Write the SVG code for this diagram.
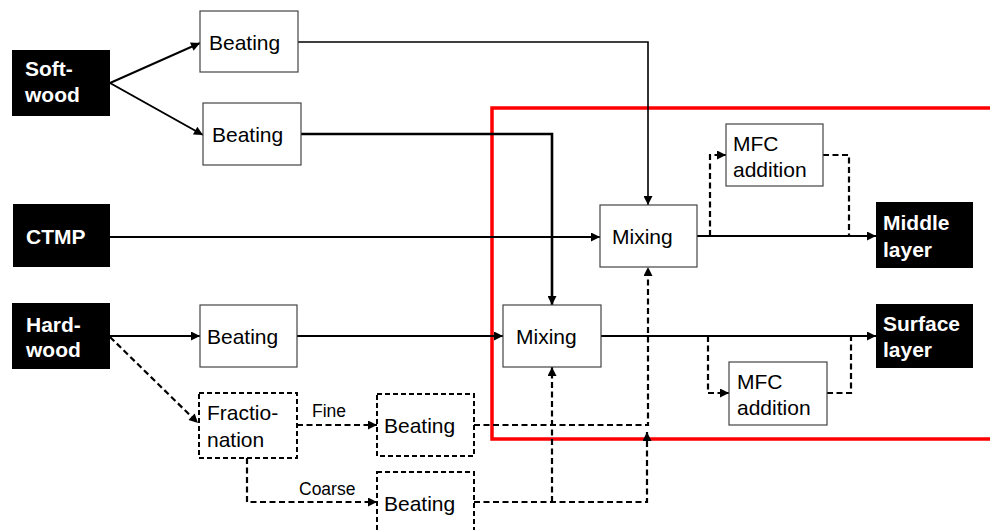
<svg xmlns="http://www.w3.org/2000/svg" width="990" height="530" viewBox="0 0 990 530">
<style>
.box{fill:#fff;stroke:#444;stroke-width:1.2}
.dbox{fill:#fff;stroke:#000;stroke-width:2;stroke-dasharray:5,3}
.blk{fill:#000}
.t{font-family:"Liberation Sans",Arial,sans-serif;font-size:21px;fill:#000}
.w{font-family:"Liberation Sans",Arial,sans-serif;font-size:21px;font-weight:bold;fill:#fff}
.s{font-family:"Liberation Sans",Arial,sans-serif;font-size:17.5px;fill:#000}
.ln{fill:none;stroke:#000;stroke-width:2}
.dl{fill:none;stroke:#000;stroke-width:2.2;stroke-dasharray:6,3.5}
</style>
<defs>
<marker id="ah" viewBox="0 0 10 10" refX="10" refY="5" markerWidth="11" markerHeight="9" orient="auto" markerUnits="userSpaceOnUse">
<path d="M0,0 L10,5 L0,10 z" fill="#000"/>
</marker>
</defs>
<rect x="492" y="108" width="510" height="331" fill="none" stroke="#f00" stroke-width="3.5"/>
<g id="connectors">
<line class="ln" x1="110" y1="83" x2="200" y2="43" marker-end="url(#ah)"/>
<line class="ln" x1="110" y1="83" x2="203" y2="135" marker-end="url(#ah)"/>
<polyline class="ln" style="stroke-width:1.6" points="298,42 648,42 648,205" marker-end="url(#ah)"/>
<polyline class="ln" style="stroke-width:2.6" points="301,134 552,134 552,305" marker-end="url(#ah)"/>
<line class="ln" x1="110" y1="237" x2="600" y2="237" marker-end="url(#ah)"/>
<line class="ln" x1="697" y1="236" x2="876" y2="236" marker-end="url(#ah)"/>
<polyline class="dl" points="710,236 710,155 726,155" marker-end="url(#ah)"/>
<polyline class="dl" points="823,155 849,155 849,236"/>
<line class="ln" x1="110" y1="336" x2="200" y2="336" marker-end="url(#ah)"/>
<line class="ln" x1="297" y1="336" x2="503" y2="336" marker-end="url(#ah)"/>
<line class="ln" x1="601" y1="336" x2="876" y2="336" marker-end="url(#ah)"/>
<polyline class="dl" points="708,336 708,393 729,393" marker-end="url(#ah)"/>
<polyline class="dl" points="827,393 851,393 851,336"/>
<line class="dl" x1="110" y1="337" x2="198" y2="423" marker-end="url(#ah)"/>
<line class="dl" x1="297" y1="425" x2="377" y2="425" marker-end="url(#ah)"/>
<polyline class="dl" points="247,458 247,502 377,502" marker-end="url(#ah)"/>
<polyline class="dl" points="474,425 648,425 648,267" marker-end="url(#ah)"/>
<polyline class="dl" points="474,502 647,502 647,432" marker-end="url(#ah)"/>
<line class="dl" x1="552" y1="502" x2="552" y2="367" marker-end="url(#ah)"/>
</g>
<g id="softwood"><rect class="blk" x="12" y="50" width="98" height="66"/><text class="w" x="25" y="76">Soft-</text><text class="w" x="25" y="102">wood</text></g>
<g id="ctmp"><rect class="blk" x="13" y="204" width="97" height="63"/><text class="w" x="26" y="244">CTMP</text></g>
<g id="hardwood"><rect class="blk" x="12" y="303" width="98" height="66"/><text class="w" x="26" y="332">Hard-</text><text class="w" x="26" y="357">wood</text></g>
<g id="beating1"><rect class="box" x="200" y="11" width="98" height="61"/><text class="t" x="209" y="50">Beating</text></g>
<g id="beating2"><rect class="box" x="203" y="103" width="98" height="62"/><text class="t" x="212" y="142">Beating</text></g>
<g id="beating3"><rect class="box" x="200" y="305" width="97" height="62"/><text class="t" x="207" y="344">Beating</text></g>
<g id="fractionation"><rect class="dbox" x="199" y="393" width="98" height="65"/><text class="t" x="207" y="420">Fractio-</text><text class="t" x="207" y="447">nation</text></g>
<g id="beating4"><rect class="dbox" x="377" y="394" width="97" height="62"/><text class="t" x="384" y="433">Beating</text></g>
<g id="beating5"><rect class="dbox" x="377" y="472" width="97" height="64"/><text class="t" x="384" y="511">Beating</text></g>
<g id="mixing1"><rect class="box" x="600" y="205" width="97" height="62"/><text class="t" x="612" y="244">Mixing</text></g>
<g id="mixing2"><rect class="box" x="503" y="305" width="98" height="62"/><text class="t" x="516" y="344">Mixing</text></g>
<g id="mfc1"><rect class="box" x="726" y="124" width="97" height="62"/><text class="t" x="733" y="151">MFC</text><text class="t" x="733" y="177">addition</text></g>
<g id="mfc2"><rect class="box" x="729" y="362" width="98" height="63"/><text class="t" x="737" y="389">MFC</text><text class="t" x="737" y="415">addition</text></g>
<g id="middle"><rect class="blk" x="876" y="202" width="97" height="66"/><text class="w" x="883" y="230">Middle</text><text class="w" x="883" y="257">layer</text></g>
<g id="surface"><rect class="blk" x="876" y="304" width="97" height="64"/><text class="w" x="883" y="331">Surface</text><text class="w" x="883" y="357">layer</text></g>
<text class="s" x="312" y="417">Fine</text>
<text class="s" x="299" y="495">Coarse</text>
</svg>
